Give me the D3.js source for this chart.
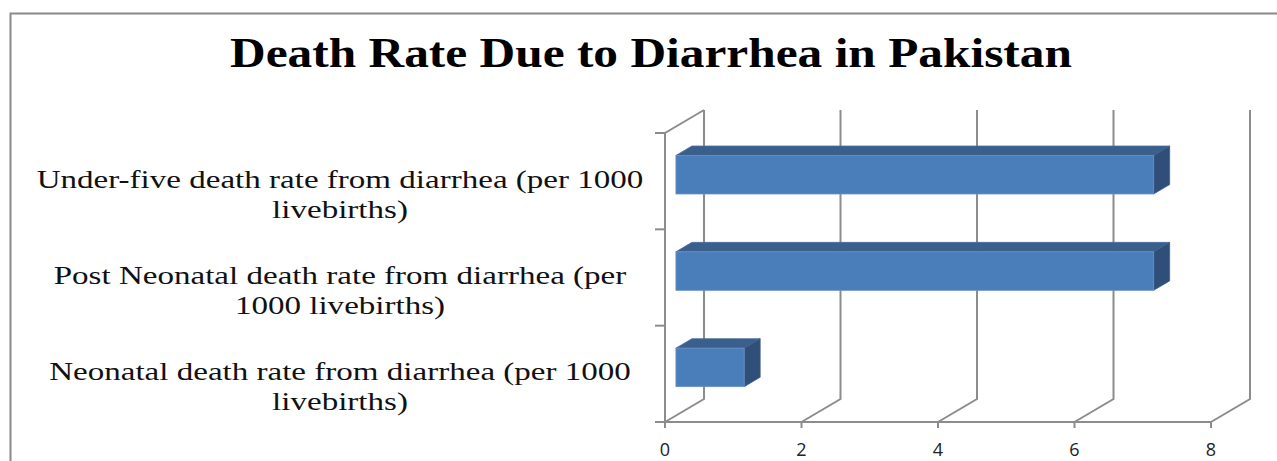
<!DOCTYPE html>
<html>
<head>
<meta charset="utf-8">
<script src="https://cdn.jsdelivr.net/npm/d3@7"></script>
<style>
  html, body { margin: 0; padding: 0; background: #fff; }
  svg { display: block; }
</style>
</head>
<body>
<svg id="chart" width="1277" height="461"></svg>
<script>
// Chart data
const categories = [
  ["Under-five death rate from diarrhea (per 1000", "livebirths)"],
  ["Post Neonatal death rate from diarrhea (per", "1000 livebirths)"],
  ["Neonatal death rate from diarrhea (per 1000", "livebirths)"]
];
const values = [7.0, 7.0, 1.0];
const xTicks = [0, 2, 4, 6, 8];
const titleText = "Death Rate Due to Diarrhea in Pakistan";

const svg = d3.select("#chart");

// Outer chart frame (continues past the right/bottom edges)
svg.append("rect")
  .attr("x", 10.5).attr("y", 13.5)
  .attr("width", 1300).attr("height", 500)
  .attr("fill", "#fff").attr("stroke", "#8a8a8a").attr("stroke-width", 2);

// Plot geometry (front plane) and depth vector of the 3D box
const front = { left: 665, right: 1211, top: 133, bottom: 422 };
const depth = { dx: 39, dy: -23 };
const barDepthStart = 0.28, barDepthEnd = 0.69;

const x = d3.scaleLinear().domain([0, 8]).range([front.left, front.right]);
const y = d3.scaleBand().domain(d3.range(categories.length))
  .range([front.top, front.bottom]).paddingInner(0).paddingOuter(0);

const gridColor = "#8c8c8c";
const grid = svg.append("g").attr("fill", "none").attr("stroke", gridColor).attr("stroke-width", 2);

// Back-wall verticals plus floor diagonals for each tick value
xTicks.forEach(v => {
  const fx = x(v);
  grid.append("path").attr("d", d3.line()([
    [fx, front.bottom],
    [fx + depth.dx, front.bottom + depth.dy],
    [fx + depth.dx, front.top + depth.dy]
  ]));
});

// Left wall: front vertical edge, top diagonal and the value axis line
grid.append("path").attr("d", d3.line()([
  [x(0) + depth.dx, front.top + depth.dy],
  [x(0), front.top],
  [x(0), front.bottom],
  [x(8), front.bottom]
]));

// Category tick marks on the vertical axis
d3.range(categories.length + 1).map(i => front.top + i * y.step()).forEach(b => {
  grid.append("line").attr("x1", x(0) - 10).attr("x2", x(0)).attr("y1", b).attr("y2", b);
});
// Value tick marks on the horizontal axis
xTicks.forEach(v => {
  grid.append("line").attr("x1", x(v)).attr("x2", x(v))
    .attr("y1", front.bottom).attr("y2", front.bottom + 6);
});

// 3D bars
const bars = svg.append("g");
const barH = y.bandwidth() / 2.5;
const dA = { dx: depth.dx * barDepthStart, dy: depth.dy * barDepthStart };
const dB = { dx: depth.dx * barDepthEnd, dy: depth.dy * barDepthEnd };
const bdx = dB.dx - dA.dx, bdy = dB.dy - dA.dy;

values.forEach((v, i) => {
  const x0 = x(0) + dA.dx, x1 = x(v) + dA.dx;
  const yc = y(i) + y.bandwidth() / 2 + dA.dy;
  const y0 = yc - barH / 2, y1 = yc + barH / 2;
  const g = bars.append("g");
  // top face
  g.append("path").attr("d", d3.line()([
    [x0, y0], [x0 + bdx, y0 + bdy], [x1 + bdx, y0 + bdy], [x1, y0]
  ]) + "Z").attr("fill", "#3b5f8d").attr("stroke", "#4a6d99").attr("stroke-width", 0.8);
  // right face
  g.append("path").attr("d", d3.line()([
    [x1, y0], [x1 + bdx, y0 + bdy], [x1 + bdx, y1 + bdy], [x1, y1]
  ]) + "Z").attr("fill", "#2f4f78").attr("stroke", "#3f5f88").attr("stroke-width", 0.8);
  // front face
  g.append("rect").attr("x", x0).attr("y", y0)
    .attr("width", x1 - x0).attr("height", barH)
    .attr("fill", "#4a7ebb").attr("stroke", "#6890c4").attr("stroke-width", 0.8);
});

// Value axis labels
svg.append("g").selectAll("text").data(xTicks).join("text")
  .attr("x", d => x(d)).attr("y", 456)
  .attr("text-anchor", "middle")
  .attr("font-family", "'Open Sans', 'DejaVu Sans', sans-serif")
  .attr("font-size", 18).attr("fill", "#222")
  .text(d => d);

// Category labels (two centred lines each), widened to the label column
const labelCx = 340, labelWidth = 607;
const labelG = svg.append("g")
  .attr("font-family", "'Liberation Serif', 'Times New Roman', serif")
  .attr("font-size", 25).attr("fill", "#111").attr("text-anchor", "middle");
const labelTexts = categories.map((lines, i) => {
  const yc = y(i) + y.bandwidth() / 2 + dA.dy;
  const t = labelG.append("text").attr("x", 0).attr("y", yc + 13);
  lines.forEach((ln, j) => {
    t.append("tspan").attr("x", 0).attr("dy", j === 0 ? 0 : 30).text(ln);
  });
  return t;
});
const widest = labelTexts[0].select("tspan").node().getComputedTextLength();
const labelSx = labelWidth / widest;
labelTexts.forEach(t => t.attr("transform", `translate(${labelCx},0) scale(${labelSx},1)`));

// Title, widened to its column
const title = svg.append("text")
  .attr("x", 0).attr("y", 67)
  .attr("text-anchor", "middle")
  .attr("font-family", "'Liberation Serif', 'Times New Roman', serif")
  .attr("font-weight", "bold").attr("font-size", 42).attr("fill", "#000")
  .text(titleText);
const titleSx = 842 / title.node().getComputedTextLength();
title.attr("transform", `translate(651,0) scale(${titleSx},1)`);
</script>
</body>
</html>
